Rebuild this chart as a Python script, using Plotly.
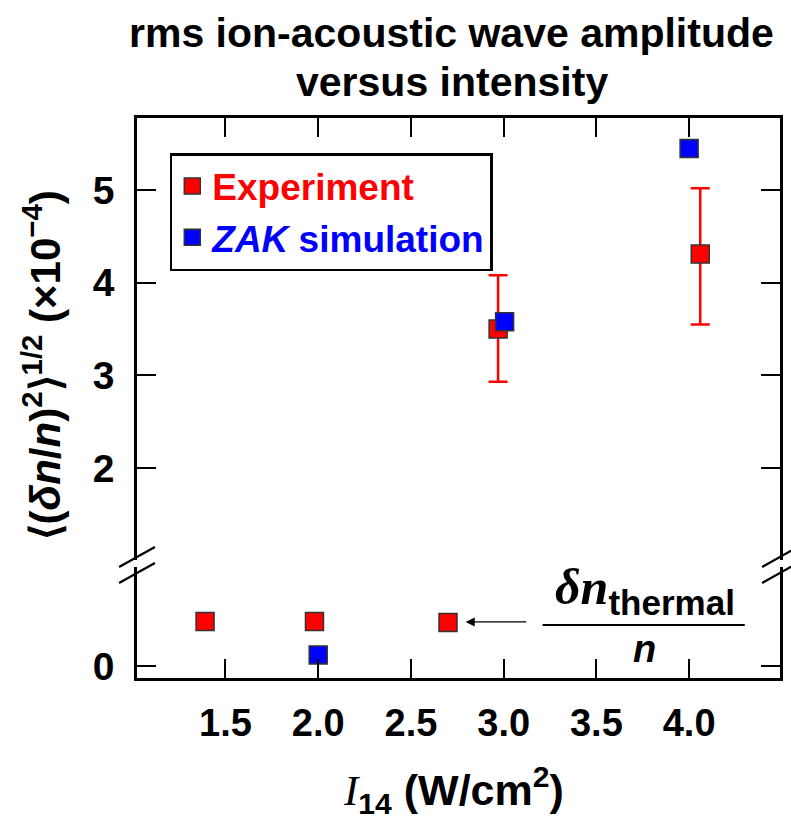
import plotly.graph_objects as go

# ---- data ----
exp_x = [1.39, 1.98, 2.70, 2.97, 4.06]
exp_y = [0.48, 0.48, 0.47, 3.50, 4.31]
exp_err_plus = [0, 0, 0, 0.58, 0.71]
exp_err_minus = [0, 0, 0, 0.57, 0.76]
sim_x = [2.00, 3.005, 4.00]
sim_y = [0.12, 3.58, 5.45]
x_ticks = [1.5, 2.0, 2.5, 3.0, 3.5, 4.0]
x_ticklabels = ["1.5", "2.0", "2.5", "3.0", "3.5", "4.0"]
y_upper_ticks = [2, 3, 4, 5]
y_lower_ticks = [0]
break_value = 1.0

RED = "#ff0000"
BLUE = "#0000ff"
FONT = "Liberation Sans, Arial, Helvetica, sans-serif"
SERIF = "Liberation Serif, Times New Roman, serif"

def split(xs, ys, ep=None, em=None):
    lo = [[], [], [], []]
    hi = [[], [], [], []]
    for i, (x, y) in enumerate(zip(xs, ys)):
        tgt = lo if y < break_value else hi
        tgt[0].append(x)
        tgt[1].append(y)
        tgt[2].append(ep[i] if ep else 0)
        tgt[3].append(em[i] if em else 0)
    return lo, hi

exp_lo, exp_hi = split(exp_x, exp_y, exp_err_plus, exp_err_minus)
sim_lo, sim_hi = split(sim_x, sim_y)

marker_exp = dict(symbol="square", size=18, color=RED, line=dict(color="#333333", width=1.5))
marker_sim = dict(symbol="square", size=18, color=BLUE, line=dict(color="#333333", width=1.5))

fig = go.Figure()
fig.add_trace(go.Scatter(x=exp_hi[0], y=exp_hi[1], mode="markers", marker=marker_exp,
                         name="<b><span style='color:%s'>Experiment</span></b>" % RED,
                         legendgroup="exp", xaxis="x2", yaxis="y2",
                         error_y=dict(type="data", symmetric=False, array=exp_hi[2],
                                      arrayminus=exp_hi[3], color=RED, thickness=2.5, width=9.5)))
fig.add_trace(go.Scatter(x=exp_lo[0], y=exp_lo[1], mode="markers", marker=marker_exp,
                         name="Experiment", legendgroup="exp", showlegend=False,
                         xaxis="x", yaxis="y"))
fig.add_trace(go.Scatter(x=sim_hi[0], y=sim_hi[1], mode="markers", marker=marker_sim,
                         name="<b><span style='color:%s'><i>ZAK</i> simulation</span></b>" % BLUE,
                         legendgroup="sim", xaxis="x2", yaxis="y2"))
fig.add_trace(go.Scatter(x=sim_lo[0], y=sim_lo[1], mode="markers", marker=marker_sim,
                         name="ZAK simulation", legendgroup="sim", showlegend=False,
                         xaxis="x", yaxis="y"))

# geometry: plot area 137..783 px wide, 118..678 px tall
px_w, px_h = 646.0, 560.0
def px2paper(px, py):
    return (px - 137) / px_w, (678 - py) / px_h

split_frac = (678 - 565) / px_h
lower_range = [-0.13, 1.092]
upper_range = [0.951, 5.78]
x_range = [1.023, 4.49]

axis_common = dict(showline=True, linecolor="black", linewidth=2.5, ticks="inside",
                   ticklen=19, tickwidth=2.2, tickcolor="black", showgrid=False,
                   zeroline=False)

fig.update_layout(
    width=791, height=819,
    margin=dict(l=137, r=8, t=118, b=141),
    paper_bgcolor="white", plot_bgcolor="white",
    font=dict(family=FONT, color="black"),
    xaxis=dict(domain=[0, 1], range=x_range, anchor="y", tickvals=x_ticks,
               ticktext=["<b>%s</b>" % t for t in x_ticklabels],
               tickfont=dict(size=38, family=FONT), ticklabelstandoff=10, **axis_common),
    xaxis2=dict(domain=[0, 1], range=x_range, anchor="y2", side="top", matches="x",
                tickvals=x_ticks, showticklabels=False, **axis_common),
    yaxis=dict(domain=[0, split_frac], range=lower_range, anchor="x", tickvals=y_lower_ticks,
               ticktext=["<b>0</b>"], tickfont=dict(size=39, family=FONT),
               ticklabelstandoff=12, mirror="ticks", **axis_common),
    yaxis2=dict(domain=[split_frac, 1], range=upper_range, anchor="x2", tickvals=y_upper_ticks,
                ticktext=["<b>%d</b>" % v for v in y_upper_ticks],
                tickfont=dict(size=39, family=FONT), ticklabelstandoff=12,
                mirror="ticks", **axis_common),
    legend=dict(x=0.051, y=0.9375, xanchor="left", yanchor="top",
                bgcolor="white", bordercolor="black", borderwidth=2.5,
                font=dict(size=37, family=FONT), itemsizing="trace",
                tracegroupgap=0),
    showlegend=True,
)

shapes = []
# break marks (white gap + two slanted lines) on left and right axes
for cx in (137, 783):
    x0, y0 = px2paper(cx - 4, 567)
    x1, y1 = px2paper(cx + 4, 560)
    shapes.append(dict(type="rect", xref="paper", yref="paper", x0=x0, x1=x1, y0=y0, y1=y1,
                       fillcolor="white", line=dict(width=0), layer="above"))
    for cy in (557, 573):
        a = px2paper(cx - 18, cy + 10)
        b = px2paper(cx + 18, cy - 10)
        shapes.append(dict(type="line", xref="paper", yref="paper", x0=a[0], y0=a[1],
                           x1=b[0], y1=b[1], line=dict(color="black", width=2.2), layer="above"))
# fraction bar for annotation (data coords of lower axis)
shapes.append(dict(type="line", xref="x", yref="y", x0=3.21, x1=4.30, y0=0.443, y1=0.443,
                   line=dict(color="black", width=2.2)))
fig.update_layout(shapes=shapes)

tx1, ty1 = px2paper(453, 33)
tx2, ty2 = px2paper(453, 82)
yx, yy = px2paper(42, 365)
xx, xy = px2paper(455, 790)
annotations = [
    # title (two lines)
    dict(x=tx1, y=ty1, xref="paper", yref="paper", showarrow=False, xanchor="center",
         yanchor="middle", text="<b>rms ion-acoustic wave amplitude</b>",
         font=dict(size=41, family=FONT, color="black")),
    dict(x=tx2, y=ty2, xref="paper", yref="paper", showarrow=False, xanchor="center",
         yanchor="middle", text="<b>versus intensity</b>",
         font=dict(size=41, family=FONT, color="black")),
    # arrow pointing to thermal level point
    dict(x=2.795, y=0.476, ax=3.13, ay=0.476, xref="x", yref="y", axref="x", ayref="y",
         showarrow=True, arrowhead=2, arrowsize=1.4, arrowwidth=1.3, arrowcolor="black", text=""),
    dict(x=3.76, y=0.455, xref="x", yref="y", xanchor="center", yanchor="bottom", showarrow=False,
         text="<span style='font-family:%s'><b><i>δn</i></b></span><sub><b>thermal</b></sub>" % SERIF,
         font=dict(size=50, family=FONT, color="black")),
    dict(x=3.76, y=0.43, xref="x", yref="y", xanchor="center", yanchor="top", showarrow=False,
         text="<b><i>n</i></b>", font=dict(size=38, family=FONT, color="black")),
    # y-axis title
    dict(x=yx, y=yy, xref="paper", yref="paper", showarrow=False, textangle=-90,
         xanchor="center", yanchor="middle",
         text="<b>⟨(<i>δn</i>/<i>n</i>)<sup>2</sup>⟩<sup>1/2</sup> (×10<sup>−4</sup>)</b>",
         font=dict(size=42, family=FONT, color="black")),
    # x-axis title
    dict(x=xx, y=xy, xref="paper", yref="paper", showarrow=False,
         xanchor="center", yanchor="middle",
         text="<span style='font-family:%s'><i>I</i></span>"
              "<sub><b>14</b></sub><b> (W/cm<sup>2</sup>)</b>" % SERIF,
         font=dict(size=43, family=FONT, color="black")),
]
fig.update_layout(annotations=annotations)

fig.write_html("out.html")
